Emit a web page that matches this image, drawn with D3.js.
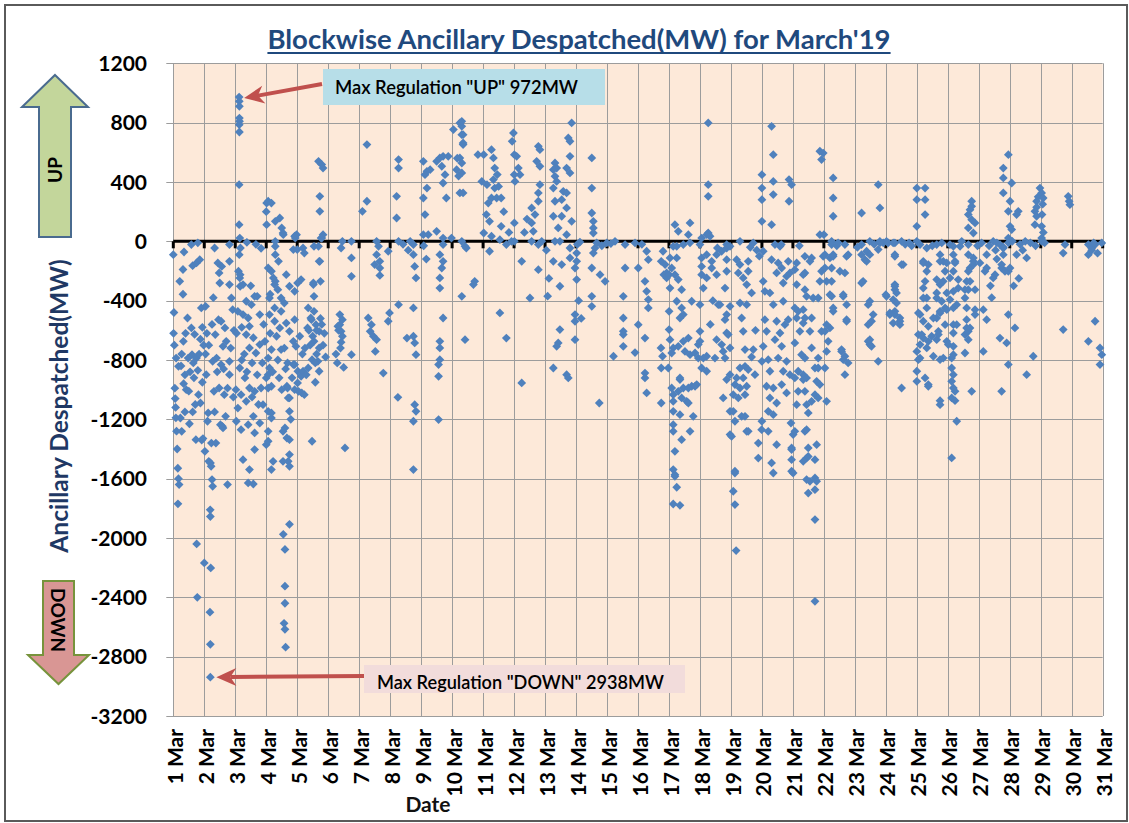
<!DOCTYPE html>
<html>
<head>
<meta charset="utf-8">
<script src="https://cdn.jsdelivr.net/npm/d3@7"></script>
<style>
  body { margin: 0; background: #fff; }
  text { font-family: Lato, "Liberation Sans", sans-serif; }
</style>
</head>
<body>
<svg width="1129" height="823"></svg>
<script>

// Blockwise ancillary despatch, March 2019: [hour of day, MW] per day
var mar01 = [[0.0,-90],[0.5,-480],[0.2,-620],[0.8,-700],[1.2,-990],[1.5,-1060],[1.8,-1120],[2.0,-1190],[2.5,-1280],[3.0,-1400],[3.5,-1530],[4.0,-1600],[4.5,-1640],[3.6,-1770],[5,-270],[6,-840],[6.5,-760],[7.5,-190],[7.5,-357],[7.8,-674],[8.3,-72],[9,-900],[10,-1000],[11,-517],[11.5,-787],[12,-1010],[13,-880],[14,-22],[14,-584],[14.5,-764],[15,-164],[15.5,-820],[16.5,-627],[17,-1100],[17.5,-1337],[18,-146],[18,-787],[18.1,-2040],[18.6,-2400],[19,-10],[19.5,-1034],[20.5,-124],[21,-1090],[21.7,-449],[22,-1340],[23,-1330],[22.5,-950],[23.5,-700],[2.2,-787],[4,-843],[5.5,-1191],[6.5,-1281],[9,-1150],[12.5,-1230],[15,-1150],[16,-920],[19,-870],[20,-760],[21,-660],[22.5,-580],[9.5,-620],[8,-960]];
var mar02 = [[0,-2168],[0.5,-1416],[1,-438],[1.5,-899],[2.5,-1213],[3,-1157],[3.5,-1483],[4.4,-2500],[4.7,-2717],[4.7,-2938],[4.6,-1810],[4.7,-1855],[4.8,-1494],[5,-2202],[5.5,-1360],[6,-1606],[6.5,-1652],[5.3,-1517],[6.5,-809],[7.5,-1011],[8,-45],[8.5,-629],[9,-1360],[9.5,-787],[10.5,-146],[11,-528],[11.5,-213],[11.5,-989],[12,-281],[12.5,-1236],[13,-539],[13,-831],[13.5,-169],[14,-1247],[14.5,-1258],[14.5,-708],[15.5,-1034],[16,-584],[17,-674],[18,-1640],[19.5,-22],[19.5,-135],[19.5,-292],[19.5,-809],[19.5,-899],[21,-382],[22,-461],[1,-760],[2,-620],[3.5,-700],[6,-560],[7,-380],[8,-1150],[10,-880],[15,-860],[16.5,-1180],[18,-990],[20.5,-720],[22.5,-1050],[23,-600]];
var mar03 = [[3.0,972],[3.1,944],[3.2,910],[3.2,831],[3.3,809],[3.1,786],[3.2,737],[3.0,382],[3.0,112],[3.5,22],[3.1,-90],[2.5,-202],[3.5,-247],[4,-45],[3.8,-225],[3.8,-303],[6,-292],[8.5,-404],[15,-371],[17,-371],[12.5,-427],[6,-494],[10,-517],[2,-472],[11,-573],[19,-494],[8.5,-629],[19,-696],[23,-674],[11,-719],[16,-753],[3.5,-854],[7.5,-921],[11,-989],[4.5,-1034],[15,-1011],[20,-989],[8.5,-1079],[2,-1124],[21.5,-1101],[14,-1180],[10,-1236],[0.8,-1213],[4.5,-1270],[19,-1225],[15,-1292],[6,-1472],[11,-1539],[15,-1404],[10,-1629],[14,-1636],[9,-7],[16,-20],[20,-47],[13,-1050],[5,-800],[1,-620],[5,-580],[7,-760],[9,-880],[13,-820],[17,-900],[18,-1100],[21,-820],[22,-560],[12,-300],[14,-650],[0.5,-1000]];
var mar04 = [[0.3,258],[1.5,270],[4,258],[0,200],[0.3,112],[7,135],[10.5,157],[12,90],[13,56],[7,0],[7,-34],[7,-90],[9.5,-135],[4,-202],[7,-270],[3,-357],[1.5,-180],[5.5,-247],[6.5,-292],[2.5,-382],[9,-326],[11.5,-382],[14,-416],[6.5,-449],[11.5,-472],[2.5,-494],[6.5,-539],[10.5,-584],[4,-730],[11.5,-730],[1.5,-787],[2.5,-854],[0,-921],[1.5,-989],[1.5,-1146],[4,-1191],[1.5,-1281],[0,-1371],[5.3,-1483],[1.5,-899],[4,-977],[4,-1157],[1.5,-1348],[4,-1539],[16,-977],[17,-1056],[18,-1146],[14.5,-1258],[16,-1326],[18,-1438],[17,-1483],[18,-1517],[13,-1483],[21,-831],[13.2,-1975],[18,-1908],[14.5,-2077],[14.5,-2325],[14.5,-2440],[13.8,-2575],[14.5,-2616],[15,-2736],[23.5,45],[22.5,22],[15.5,-551],[18,-607],[22,-528],[21,-674],[23,-708],[16.5,-820],[22,-831],[16.5,-989],[18,-1056],[13,-1281],[18,-1337],[15.5,-225],[18,-303],[22,-337],[13.2,45],[22,34],[21,-56],[3,-620],[5,-880],[8,-640],[9,-800],[10,-920],[12,-1000],[14,-720],[15,-860],[20,-920],[19,-1200],[22,-1000]];
var mar05 = [[0,-56],[0.3,-281],[0.5,-876],[0.3,-955],[1,-1011],[3,-258],[3,-910],[3.5,-1022],[4.5,-45],[4.5,-876],[5.5,-79],[5.5,-1034],[8.5,-854],[8.5,-449],[10.5,-517],[11,-528],[11.5,-798],[11.5,-1348],[12.5,-292],[13,-34],[13,-371],[13,-472],[13,-674],[14.5,-562],[16,-809],[17,-135],[17,-607],[17,-719],[17,-876],[18,-270],[18.5,22],[16.5,539],[19,517],[20,494],[17.5,303],[17.5,202],[20,45],[19,22],[16.5,-34],[17.5,-135],[12.5,-281],[8,-584],[10,-700],[14,-950],[15,-760],[19,-560],[2,-640],[4,-760],[6,-720],[7,-900],[9,-600],[12,-640],[14,-820],[15,-600],[18,-520],[20,-700],[21,-620],[22,-780]];
var mar06 = [[11,0],[18,0],[10,-45],[18,-112],[18,-236],[9,-494],[11,-528],[9,-562],[10,-607],[11,-640],[18,-764],[13,-1393],[10,-680],[8,-600],[9.5,-720],[7,-820],[6,-760],[12,-850],[7.5,-573]];
var mar07 = [[6,652],[6,270],[2.5,202],[13.5,0],[15,-34],[13.5,-90],[16,-135],[12,-157],[16,-180],[22.5,-67],[7,-517],[9.5,-562],[8.5,-607],[11,-640],[13.5,-663],[12.5,-742],[22.5,-539],[23.5,-483],[16,-230],[18.7,-888]];
var mar08 = [[6.5,551],[6.5,494],[5,303],[5,157],[6.5,0],[15.5,0],[18,-22],[18,-90],[19,-169],[20,-247],[6.5,-427],[18,-449],[13,-652],[18,-640],[19,-685],[20,-764],[6,-1052],[19,-1101],[20,-1146],[18,-1213],[18,-1539],[10,-20],[14,-60]];
var mar09 = [[1.7,539],[4.5,472],[3,449],[7,483],[12,539],[14.5,562],[17,573],[21,573],[16,506],[18.5,449],[17,393],[19.5,292],[4.5,359],[1.7,292],[3,180],[1.7,45],[5.5,45],[12,67],[17,22],[23.5,22],[17,-22],[14.5,-90],[17,-135],[16,-180],[14.5,-247],[14.5,-315],[17,-517],[14.5,-674],[14.5,-719],[14.5,-798],[13.5,-831],[13.5,-910],[13.5,-1202],[2,-30],[4,-120]];
var mar10 = [[1,753],[6,798],[7.5,775],[7.5,719],[8.5,663],[6,562],[3.5,483],[7.5,461],[6,326],[7.5,0],[11,-45],[17.5,-270],[20,584],[7.5,809],[8.5,719],[8.5,652],[7.5,528],[8.5,326],[10,-34],[16.5,-292],[7.5,-371],[10,-663],[4,560],[5,440],[23,404]];
var mar11 = [[0.5,584],[6.5,618],[8,562],[9,494],[3,382],[8,416],[9,359],[6.5,292],[10.5,292],[14,292],[4,258],[2.5,180],[5,135],[14,101],[0.5,56],[6.5,34],[13,11],[22,0],[5,-67],[18,-22],[13,-483],[18,-652],[11,450],[12,370],[16,200],[20,60],[23.5,730],[22.5,674]];
var mar12 = [[0.2,584],[2,573],[3.3,494],[4.6,449],[0.1,449],[0.7,404],[0.2,124],[0.2,0],[18.8,640],[20,618],[17.5,539],[20,506],[20,382],[18.8,326],[18.8,270],[13.6,225],[16.2,180],[13.6,124],[14.9,67],[13.6,0],[18.8,-22],[21.4,0],[5.9,-135],[18.8,-191],[12.3,-382],[5.9,-955],[8,60],[10,150]];
var mar13 = [[7.7,528],[9,494],[6.4,483],[7.7,438],[9,404],[6.4,359],[7.7,270],[6.4,169],[10.2,90],[7.7,0],[11.5,0],[18,697],[19.3,674],[20.6,798],[19.3,573],[16.7,494],[19.3,461],[14.1,337],[16.7,326],[12.9,281],[16.7,225],[12.9,169],[20.6,135],[16.7,45],[19.3,-45],[19.3,-112],[6.4,-135],[12.9,-157],[23.2,-180],[11.5,-303],[23.2,-494],[23.2,-539],[11.5,-595],[10.2,-685],[23.2,-663],[9,-708],[6.4,-854],[16.7,-899],[18,-921],[2,-370],[3,-250],[1,-60]];
var mar14 = [[0.5,-79],[0.5,-135],[0.5,-258],[12.2,562],[12.2,359],[12.2,191],[13.4,135],[13.4,90],[13.4,56],[23.8,-11],[14.7,-45],[13.4,-79],[12.2,-180],[18.6,-225],[22.5,-270],[12.2,-371],[12.2,-438],[18,-1090],[1,-20],[3,-5],[16,-10],[20,-30],[2,-400],[4,-520]];
var mar15 = [[6.2,0],[14,-22],[21.7,-11],[14,-180],[12.6,-371],[12.6,-517],[12.6,-607],[12.6,-629],[12.6,-708],[5,-775],[3,-15],[21.7,-750]];
var mar16 = [[0.2,-180],[0.2,-562],[6.7,-67],[8,-124],[5.4,-270],[6.7,-337],[8,-393],[8,-449],[5.4,-652],[5.4,-888],[5.4,-921],[6.7,-1022],[18,-1090],[19.4,-67],[18,-135],[21,-157],[22.2,-213],[17.8,-719],[19,-775],[18,-854],[23.5,-854],[22.2,-247],[20,-225],[3,-20]];
var mar17 = [[3.3,-34],[11.1,-22],[0.8,-112],[6,-112],[2.1,-180],[0.1,-225],[4.6,-225],[0.8,-315],[7.2,-258],[9.8,-326],[0.1,-472],[6,-404],[9.8,-449],[11.1,-494],[8.5,-517],[17.6,-404],[0.1,-595],[0.8,-663],[3.3,-719],[7.2,-708],[11.1,-674],[15,-652],[12.4,-742],[16.3,-764],[20.2,-753],[22.7,-696],[22.7,-787],[2.1,-753],[2.1,-989],[8.5,-932],[3.3,-1034],[11.1,-989],[15,-989],[17.6,-977],[21.5,-966],[7.2,-1011],[9.8,-1056],[3.3,-1079],[13.7,-1079],[3.3,-1146],[8.5,-1169],[3.3,-1236],[3.3,-1281],[16.3,-1281],[9.8,-1337],[4.6,-1416],[3.3,-1539],[4.6,-1573],[4.6,-1584],[6,-1658],[3.3,-1771],[8.5,-1780],[18.8,-1180],[15,-1090],[8.5,-921],[20.2,-977],[4.6,112],[7.2,67],[16.3,124],[15,45],[6,-34],[16.3,-10]];
var mar18 = [[1.3,22],[7.8,34],[6.4,798],[6.4,382],[6.4,303],[6.4,56],[5.2,45],[0,-22],[13.5,-45],[20.7,-22],[1.3,-112],[5.2,-90],[9.1,-135],[12.9,-90],[16.8,-67],[20.7,-45],[23.3,-34],[1.3,-169],[9.1,-180],[1.3,-225],[5.2,-247],[12.9,-225],[2.6,-315],[20.7,-124],[20.7,-202],[14.2,-427],[0,-427],[23.3,-438],[19.4,-528],[20.7,-618],[16.8,-696],[23.3,-719],[18,-742],[19.4,-787],[0,-607],[0,-674],[2.6,-787],[5.2,-775],[11.6,-787],[1.3,-854],[5.2,-876],[23.3,-899],[20.7,-932],[18,-1056],[23.3,-1146],[23.3,-1303],[12.9,-663],[21.9,-629],[20.7,-494],[15.5,-427],[19.4,-315],[8,-560],[10,-400]];
var mar19 = [[7,-157],[5.7,-213],[13.4,-135],[13.4,-202],[9.5,-247],[12.2,-292],[7,-416],[12.2,-427],[16,-348],[8.3,-517],[9.5,-607],[17.3,-730],[10.9,-730],[7,-854],[10.9,-843],[13.4,-865],[4.4,-921],[9.5,-921],[3.1,-966],[7,-989],[12.2,-977],[1.8,-1034],[5.7,-1056],[10.9,-1034],[18.6,-899],[1.8,-1146],[8.3,-1180],[3.1,-1213],[12.2,-1281],[0.5,-1315],[3.1,-1550],[3.1,-1562],[1.8,-1685],[3.1,-1775],[4,-2085],[10.9,-1180],[13.4,-1281],[21.2,-1360],[21.2,-1461],[23.8,-1270],[4.4,-124],[7,0],[17.3,-11],[15,-40],[20,-60],[22,-100],[19,-600],[16,-780]];
var mar20 = [[1,-67],[7.5,-124],[12.6,-146],[20.4,-135],[15.3,-180],[11.4,-213],[1,-270],[2.3,-337],[6.2,-348],[16.5,-281],[19.1,-236],[21.7,-213],[8.8,-427],[16.5,-404],[2.3,-528],[3.6,-607],[11.4,-539],[14,-618],[17.8,-562],[20.4,-528],[1,-708],[10.1,-663],[15.3,-708],[0,-809],[4.9,-798],[12.6,-787],[19.1,-809],[6.2,-876],[16.5,-876],[21.7,-899],[3.6,-977],[8.8,-989],[15.3,-966],[19.1,-1022],[6.2,-1056],[11.4,-1090],[4.9,-1146],[8.8,-1169],[0,-1213],[4.9,-1281],[11.4,-1371],[7.5,-1494],[8.8,-1562],[23,-1393],[23,-1550],[7.5,775],[8.8,584],[0,449],[0,359],[8.8,404],[8.8,315],[0,281],[0,135],[7.5,112],[10.1,-22],[14,-34],[21,416],[23,382],[21,270],[15,-22],[22.5,-1225],[23,-1404],[23,-1472]];
var mar21 = [[9.3,-101],[14.5,-112],[13.2,-135],[9.3,-213],[9.3,-326],[10.6,-371],[15.7,-382],[19.6,-382],[8,-461],[9.3,-517],[8,-551],[14.5,-517],[13.2,-607],[22.2,-607],[20.9,-270],[22.2,-202],[23.5,-101],[14.5,-719],[9.3,-787],[19.6,-787],[17.1,-854],[8,-899],[10.6,-921],[19.6,-854],[18.4,-944],[20.9,-966],[9.3,-1011],[17.1,-1034],[14.5,-1079],[10.6,-1101],[19.6,-1056],[11.9,-1157],[9.3,-1281],[11.9,-1393],[10.6,-1461],[18.4,-1371],[17.1,-1472],[17.1,-1595],[10.6,-1606],[0.2,-1303],[10.6,-1270],[11.9,-1450],[13.2,-1618],[18.4,-1618],[11.9,-1697],[17.1,-1674],[17.1,-1876],[17.1,-2427],[23.5,595],[22.2,551],[20.9,607],[20.9,45],[1.5,-191],[2.9,-146],[8,-225],[2.9,-292],[1.5,-449],[4.1,-472],[2.9,-517],[5.4,-607],[1.5,-685],[6.7,-764],[4.1,-876],[1.5,-921],[8,-932],[4.1,-1011],[2.9,-1101],[1.5,-1281],[8,-1483],[0.2,-1562],[5,-30]];
var mar22 = [[7.2,427],[7.2,292],[7.2,169],[0,45],[6,0],[0.8,-90],[4.7,-112],[7.2,-90],[6,-180],[16.3,-22],[18.8,-90],[12.4,-202],[16.3,-213],[6,-270],[2.1,-270],[6,-371],[15,-371],[17.6,-427],[7.2,-449],[0.8,-607],[4.7,-584],[13.7,-742],[16.3,-775],[17.6,-528],[6,-22],[17.6,-101],[7.2,-101],[0.8,-180],[4.7,-360],[15,-360],[7.2,-472],[17.6,-539],[2.1,-562],[3.3,-674],[2.1,-742],[13.7,-730],[15,-798],[18.8,-820],[0.8,-854],[16.3,-899],[2.1,-1079],[10,-30],[11,-10]];
var mar23 = [[5.2,191],[11.6,0],[19.4,0],[9.1,-67],[5.2,-90],[7.8,-124],[18.1,382],[19.4,225],[11.6,-90],[19.4,-11],[18.1,-56],[6.4,-270],[11.6,-404],[10.3,-427],[14.2,-494],[12.9,-539],[10.3,-562],[10.3,-674],[11.6,-696],[18.1,-809],[5.2,-22],[9.1,-135],[5.2,-281],[11.6,-663],[12.9,-708],[15,-20],[22,-10],[2,-40]];
var mar24 = [[0.5,0],[7,-11],[12.2,0],[7,-90],[12.2,-157],[0.5,-371],[7,-292],[7,-326],[3.1,-494],[7,-472],[10.9,-517],[10.9,-562],[5.7,-551],[1.8,-11],[5.7,-11],[7,-101],[13.4,-157],[7,-303],[8.3,-348],[0,-360],[5.7,-393],[8.3,-416],[3.1,-483],[7,-494],[10.9,-539],[12.2,-989],[15,-20],[18,-10],[20,-30]];
var mar25 = [[0,359],[0,281],[6.4,359],[6.4,281],[6.4,180],[0,101],[0,0],[2.5,-22],[7.7,-45],[15.4,-22],[19.3,-11],[5,-135],[7.7,-202],[6.4,-270],[5,-315],[7.7,-382],[2.5,-494],[7.7,-449],[18,-90],[20.5,-135],[21.9,-202],[20.5,-270],[15.4,-348],[19.3,-404],[21.9,-449],[18,-483],[15.4,-517],[21.9,-562],[16.7,-607],[8.9,-573],[3.8,-629],[8.9,-674],[15.4,-663],[7.7,-719],[2.5,-787],[12.8,-775],[18,-798],[5,-146],[8.9,-157],[18,-135],[23.2,-146],[15.4,-258],[18,-292],[5,-382],[15.4,-382],[23.2,-348],[1.2,-483],[5,-539],[12.8,-517],[18,-472],[23.2,-461],[1.2,-629],[5,-652],[11.5,-640],[16.7,-629],[2.5,-696],[0,-742],[1.2,-798],[0,-876],[6.4,-921],[8.9,-966],[0,-944],[23.2,-674],[20.5,-787],[18,-1074],[18,-1101],[8.9,-977],[12,-30]];
var mar26 = [[10.8,0],[1.7,-22],[18.5,270],[18.5,236],[17.2,213],[15.9,180],[18.5,146],[21.1,124],[15.9,90],[19.8,56],[4.3,-90],[5.6,-146],[4.3,-202],[1.7,-247],[15.9,-22],[15.9,-90],[19.8,-135],[17.2,-180],[14.6,-270],[8.1,-315],[15.9,-326],[13.3,-382],[1.7,-393],[4.3,-449],[4.3,-562],[14.6,-528],[14.6,-584],[13.3,-629],[21.1,-494],[4.3,-764],[13.3,-753],[4.3,-34],[9.5,-34],[5.6,-135],[8.1,-258],[15.9,-202],[19.8,-112],[19.8,-157],[17.2,-270],[4.3,-337],[13.3,-326],[21.1,-326],[6.9,-427],[14.6,-449],[21.1,-461],[15.9,-607],[15.9,-663],[6.9,-562],[4.3,-618],[0.4,-696],[4.3,-708],[17.2,-584],[3,-787],[3,-854],[4.3,-899],[3,-944],[4.3,-989],[5.6,-1011],[3,-1056],[6.9,-1213],[3,-1460],[5.6,-1074],[23,-30],[18.5,-1011]];
var mar27 = [[2.2,-11],[11.2,0],[16.4,-22],[6.1,-90],[0.9,-146],[6.1,-180],[4.8,-202],[12.6,-225],[11.2,-247],[17.7,-180],[20.3,-202],[3.5,-461],[6.1,-528],[16.4,-652],[22.9,-494],[3.5,-742],[21.6,-685],[22.9,-831],[17.7,-1011],[8,-30],[14,-10],[19,-40],[9,-300],[14,-120],[10,-380],[13,-60],[23,-10],[22.9,584],[19,494],[19,427],[19,326],[22.9,202],[22.9,22],[19,-45],[19,-90],[17.7,-157],[22.9,-202]];
var mar28 = [[1.5,393],[0.2,270],[6.6,202],[5.3,180],[0.2,101],[1.5,79],[0.2,-180],[5.3,-90],[13.1,-112],[4,-584],[18.2,-775],[13.1,-899],[2,0],[8,-20],[12,0],[16,-10],[20,-30],[10,-60],[3,-300],[7,-250],[23.4,359],[20.8,270],[19.5,202],[20.8,169],[19.5,112],[20.8,230],[22,300]];
var mar29 = [[0.7,326],[1.9,292],[0.7,101],[0.7,22],[0.7,0],[18.8,-22],[17.4,-79],[21.3,303],[22.6,247],[17.4,-595],[1.5,250],[1,180],[2,60],[3,-10],[22,270]];
var mar30 = [[12.9,-22],[15.5,-45],[18.1,-22],[23.3,-11],[12.9,-90],[15.5,-60],[18.1,-539],[12.9,-674],[21.9,-719],[23.3,-764],[21.9,-831],[20,-80],[17,-10]];

var days = [mar01, mar02, mar03, mar04, mar05, mar06, mar07, mar08, mar09, mar10,
            mar11, mar12, mar13, mar14, mar15, mar16, mar17, mar18, mar19, mar20,
            mar21, mar22, mar23, mar24, mar25, mar26, mar27, mar28, mar29, mar30];

var dateLabels = ["1 Mar","2 Mar","3 Mar","4 Mar","5 Mar","6 Mar","7 Mar","8 Mar","9 Mar","10 Mar",
                  "11 Mar","12 Mar","13 Mar","14 Mar","15 Mar","16 Mar","17 Mar","18 Mar","19 Mar","20 Mar",
                  "21 Mar","22 Mar","23 Mar","24 Mar","25 Mar","26 Mar","27 Mar","28 Mar","29 Mar","30 Mar","31 Mar"];
var yTicks = [1200, 800, 400, 0, -400, -800, -1200, -1600, -2000, -2400, -2800, -3200];

// flatten to points with x = day number + fraction of day
var points = [];
days.forEach(function (arr, i) {
    arr.forEach(function (p) { points.push({ day: i + 1 + p[0] / 24, mw: p[1] }); });
});

var svg = d3.select("svg");

// chart border
svg.append("rect").attr("x", 5).attr("y", 5).attr("width", 1122).attr("height", 816)
    .attr("fill", "#fff").attr("stroke", "#5a5a5a").attr("stroke-width", 2);

var x = d3.scaleLinear().domain([1, 31]).range([173.3, 1102.7]);
var y = d3.scaleLinear().domain([-3200, 1200]).range([716, 63.3]);

// plot background
svg.append("rect")
    .attr("x", x(1)).attr("y", y(1200))
    .attr("width", x(31) - x(1)).attr("height", y(-3200) - y(1200))
    .attr("fill", "#fde9d9");

// gridlines
var grid = svg.append("g").attr("stroke", "#9c9c9c").attr("stroke-width", 1);
grid.selectAll(".h").data(yTicks).enter().append("line")
    .attr("x1", x(1) - 7).attr("x2", x(31))
    .attr("y1", function (d) { return Math.round(y(d)) + 0.5; })
    .attr("y2", function (d) { return Math.round(y(d)) + 0.5; });
grid.selectAll(".v").data(d3.range(1, 32)).enter().append("line")
    .attr("x1", function (d) { return Math.round(x(d)) + 0.5; })
    .attr("x2", function (d) { return Math.round(x(d)) + 0.5; })
    .attr("y1", y(1200)).attr("y2", y(-3200));

// zero line with day ticks
svg.append("line").attr("x1", x(1)).attr("x2", x(31)).attr("y1", y(0)).attr("y2", y(0))
    .attr("stroke", "#000").attr("stroke-width", 3);
svg.append("g").selectAll("line").data(d3.range(1, 32)).enter().append("line")
    .attr("x1", function (d) { return x(d); }).attr("x2", function (d) { return x(d); })
    .attr("y1", y(0)).attr("y2", y(0) + 7)
    .attr("stroke", "#000").attr("stroke-width", 3);

// y tick labels
svg.append("g").selectAll("text").data(yTicks).enter().append("text")
    .attr("x", 147).attr("y", function (d) { return y(d); })
    .attr("dy", "0.36em").attr("text-anchor", "end")
    .attr("font-size", 21).attr("font-weight", 700).attr("fill", "#000")
    .text(function (d) { return d; });

// x tick labels, rotated
svg.append("g").selectAll("text").data(dateLabels).enter().append("text")
    .attr("transform", function (d, i) { return "translate(" + (x(i + 1) + 2) + ",729) rotate(-90)"; })
    .attr("dy", "0.36em").attr("text-anchor", "end")
    .attr("font-size", 21).attr("font-weight", 700).attr("fill", "#000")
    .text(function (d) { return d; });

// points
var diamond = "M0,-4.4L4.4,0L0,4.4L-4.4,0Z";
svg.append("g").selectAll("path").data(points).enter().append("path")
    .attr("d", diamond)
    .attr("transform", function (d) { return "translate(" + x(d.day) + "," + y(d.mw) + ")"; })
    .attr("fill", "#4f81bd");

// title
var title = svg.append("text").attr("x", 579).attr("y", 49)
    .attr("text-anchor", "middle").attr("font-size", 27.5).attr("font-weight", 700)
    .attr("fill", "#1f497d").text("Blockwise Ancillary Despatched(MW) for March'19");
var tb = title.node().getBBox();
svg.append("line").attr("x1", tb.x).attr("x2", tb.x + tb.width).attr("y1", 53).attr("y2", 53)
    .attr("stroke", "#1f497d").attr("stroke-width", 2);

// axis titles
svg.append("text").attr("transform", "translate(68,406) rotate(-90)")
    .attr("text-anchor", "middle").attr("font-size", 24.5).attr("font-weight", 700)
    .attr("fill", "#1f3864").text("Ancillary Despatched(MW)");
svg.append("text").attr("x", 428).attr("y", 812)
    .attr("text-anchor", "middle").attr("font-size", 21).attr("font-weight", 700)
    .attr("fill", "#111").text("Date");

// UP / DOWN block arrows
svg.append("polygon")
    .attr("points", "55,75 88,107 71,107 71,237 39,237 39,107 22,107")
    .attr("fill", "#c3d69b").attr("stroke", "#4a6b8f").attr("stroke-width", 2);
svg.append("text").attr("transform", "translate(55,170) rotate(-90)")
    .attr("dy", "0.36em").attr("text-anchor", "middle")
    .attr("font-size", 19).attr("font-weight", 700).text("UP");

svg.append("polygon")
    .attr("points", "43,581 74,581 74,655 89,655 58.5,684 28,655 43,655")
    .attr("fill", "#d99694").attr("stroke", "#77933c").attr("stroke-width", 2);
svg.append("text").attr("transform", "translate(58,620) rotate(90)")
    .attr("dy", "0.36em").attr("text-anchor", "middle")
    .attr("font-size", 19).attr("font-weight", 700).text("DOWN");

// annotations
function callout(bx, by, bw, bh, fill, label, tx, ty, tw, fromX, fromY, toX, toY) {
    svg.append("rect").attr("x", bx).attr("y", by).attr("width", bw).attr("height", bh).attr("fill", fill);
    svg.append("text").attr("x", tx).attr("y", ty).attr("font-size", 19.5).attr("font-weight", 600)
        .attr("textLength", tw).attr("lengthAdjust", "spacingAndGlyphs")
        .attr("fill", "#000").text(label);
    var ang = Math.atan2(toY - fromY, toX - fromX);
    var back = 20, half = 9;
    var bxp = toX - back * Math.cos(ang), byp = toY - back * Math.sin(ang);
    svg.append("line").attr("x1", fromX).attr("y1", fromY).attr("x2", bxp + 6 * Math.cos(ang)).attr("y2", byp + 6 * Math.sin(ang))
        .attr("stroke", "#c0504d").attr("stroke-width", 4);
    var p1 = [bxp - half * Math.sin(ang), byp + half * Math.cos(ang)];
    var p2 = [bxp + half * Math.sin(ang), byp - half * Math.cos(ang)];
    var notch = [toX - 14 * Math.cos(ang), toY - 14 * Math.sin(ang)];
    svg.append("polygon")
        .attr("points", [[toX, toY], p1, notch, p2].map(function (p) { return p.join(","); }).join(" "))
        .attr("fill", "#c0504d");
}
callout(323, 69, 282, 36, "#b7dee8", 'Max Regulation "UP" 972MW', 335, 94, 243, 322, 84, x(3 + 3.0 / 24) + 5, y(972) + 1);
callout(364, 665, 321, 28, "#f2dcdb", 'Max Regulation "DOWN" 2938MW', 377, 689, 287, 364, 676, x(2 + 4.7 / 24) + 6, y(-2938));

</script>
</body>
</html>
